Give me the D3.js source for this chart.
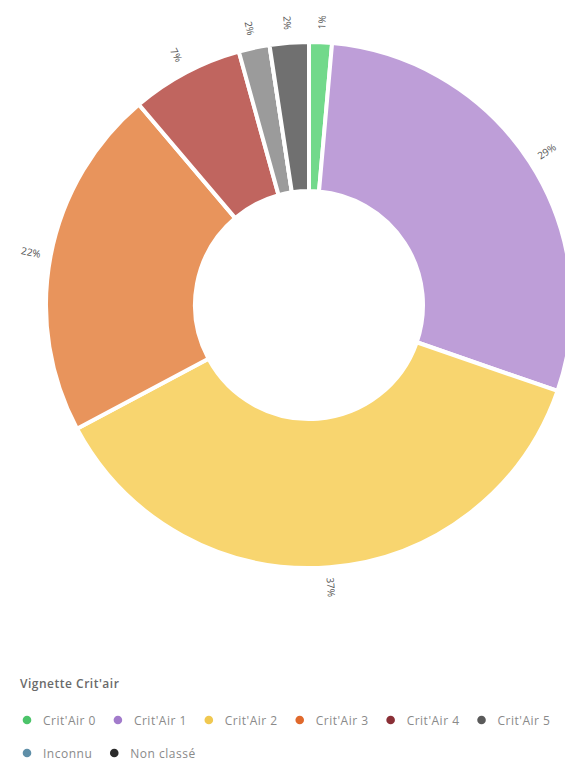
<!DOCTYPE html>
<html>
<head>
<meta charset="utf-8">
<script src="https://cdn.jsdelivr.net/npm/d3@7"></script>
<style>
  body { margin: 0; background: #fff; font-family: "Open Sans", sans-serif; }
</style>
</head>
<body>
<div id="chart"></div>
<script>
// categories and share of vehicles (%)
var categories = ["Crit'Air 0", "Crit'Air 1", "Crit'Air 2", "Crit'Air 3", "Crit'Air 4", "Crit'Air 5", "Inconnu", "Non classé"];
var values = [1.4, 28.9, 36.9, 21.6, 6.9, 1.9, 0, 2.4];

// slice colours (pastel) and legend dot colours
var sliceColors = ["#72d98b", "#be9ed8", "#f8d56f", "#e8945c", "#c0655f", "#9b9b9b", "#7fa6b9", "#707070"];
var legendColors = ["#4cc46a", "#a27bcb", "#f0c850", "#e0692c", "#8a2f36", "#5a5a5a", "#5f8fa8", "#2b2b2b"];

var legendTitle = "Vignette Crit'air";

var width = 565, height = 761;
var cx = 309, cy = 305,
    outerR = 263, innerR = 114, labelR = 283;

var svg = d3.select("#chart")
  .append("svg")
    .attr("width", width)
    .attr("height", height);

var data = categories.map(function(c, i) { return {name: c, value: values[i], i: i}; });
var total = d3.sum(values);

var pie = d3.pie()
  .sort(null)
  .value(function(d) { return d.value; });

var arc = d3.arc()
  .innerRadius(innerR)
  .outerRadius(outerR);

var g = svg.append("g")
  .attr("transform", "translate(" + cx + "," + cy + ")");

var arcs = pie(data);

// slices
g.selectAll("path")
  .data(arcs)
  .enter()
  .append("path")
    .attr("d", arc)
    .attr("fill", function(d) { return sliceColors[d.data.i]; })
    .attr("stroke", "white")
    .attr("stroke-width", 4)
    .attr("stroke-linejoin", "round");

// percentage labels, rotated along the radius
g.selectAll("text.pct")
  .data(arcs.filter(function(d) { return d.data.value > 0; }))
  .enter()
  .append("text")
    .attr("class", "pct")
    .attr("transform", function(d) {
      var a = (d.startAngle + d.endAngle) / 2;
      var x = Math.sin(a) * labelR, y = -Math.cos(a) * labelR;
      var deg = a * 180 / Math.PI - 90;
      if (a > Math.PI) deg -= 180;
      return "translate(" + x + "," + y + ") rotate(" + deg + ")";
    })
    .attr("text-anchor", "middle")
    .attr("dominant-baseline", "central")
    .style("font-size", "10px")
    .style("fill", "#555")
    .text(function(d) { return Math.round(d.data.value / total * 100) + "%"; });

// legend
svg.append("text")
  .attr("x", 20)
  .attr("y", 688)
  .style("font-size", "12px")
  .style("font-weight", "600")
  .style("letter-spacing", "0.5px")
  .style("fill", "#6a6a6a")
  .text(legendTitle);

var rows = [[0, 1, 2, 3, 4, 5], [6, 7]];
var rowY = [720, 753];

rows.forEach(function(row, r) {
  var x = 27;
  row.forEach(function(i) {
    var item = svg.append("g").attr("transform", "translate(" + x + "," + rowY[r] + ")");
    item.append("circle")
      .attr("r", 4.3)
      .attr("fill", legendColors[i]);
    var t = item.append("text")
      .attr("x", 16)
      .attr("dominant-baseline", "central")
      .style("font-size", "12px")
      .style("letter-spacing", "0.5px")
      .style("fill", "#8a8a8a")
      .text(categories[i]);
    x += 16 + t.node().getComputedTextLength() + 22;
  });
});
</script>
</body>
</html>
